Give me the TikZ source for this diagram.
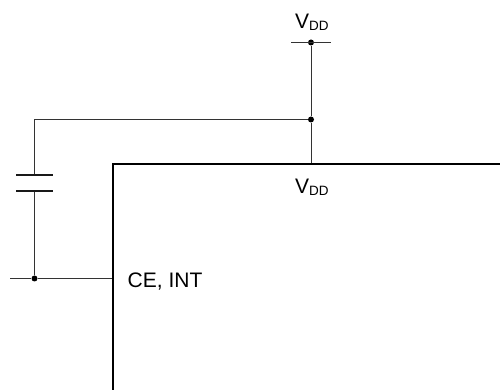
\documentclass[tikz,border=0pt]{standalone}
\usepackage{fontspec}
\setmainfont{Liberation Sans}
\usetikzlibrary{calc}
\tikzset{
	wire/.style={line width=1pt, black!80},
	plate/.style={line width=2.4pt, black!90},
	chip/.style={line width=2.9pt, black},
	dot/.style={circle, fill=black, inner sep=0pt, minimum size=6pt},
	lbl/.style={inner sep=0pt, anchor=base west, font=\fontsize{21}{21}\selectfont}
}
\newcommand{\vdd}{V{\fontsize{13.5}{13.5}\selectfont\raisebox{-1.5pt}{DD}}}

\begin{document}
\begin{tikzpicture}[x=1pt,y=1pt]
			\useasboundingbox (0,0) rectangle (500,390);
			% Supply rail
			\node[dot] (top) at (311,347.5) {};
			\coordinate (barL) at (291,347.5);
			\coordinate (barR) at (331,347.5);
			\node[lbl] (vddtop) at (295,361) {\vdd};
			\node[dot] (join) at (311,270.5) {};
			\coordinate (pin) at (311,226);
			\draw[wire] (barL) -- (barR);
			\draw[wire] (top) -- (join) -- (pin);
			
			% Capacitor branch
			\coordinate (corner) at (34.5,270.5);
			\coordinate (capT) at (34.5,215);
			\coordinate (capB) at (34.5,199);
			\node[dot] (gnd) at (34.5,111.5) {};
			\coordinate (stub) at (10,111.5);
			\coordinate (ce) at (113,111.5);
			\draw[wire] (join) -- (corner) -- (capT);
			\draw[wire] (capB) -- (gnd);
			\draw[plate] (16,215) -- (53,215);
			\draw[plate] (16,199) -- (53,199);
			\draw[wire] (stub) -- (gnd) -- (ce);
			
			% Chip outline
			\draw[chip] (113,-2) -- (113,226) -- (502,226);
			\node[lbl] (vddin) at (295,196) {\vdd};
			\node[lbl] (ceint) at (127.5,102) {CE, INT};
		\end{tikzpicture}
\end{document}
